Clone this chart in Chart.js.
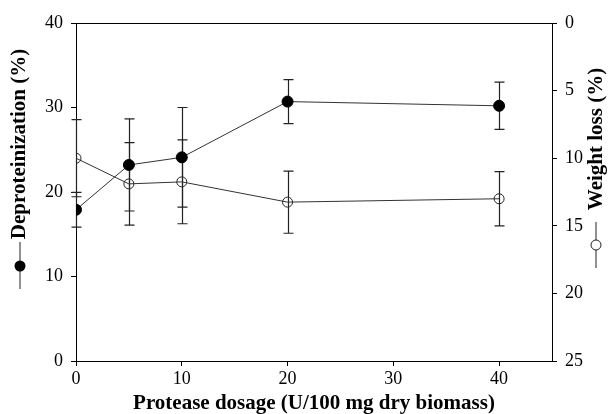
<!DOCTYPE html>
<html>
<head>
<meta charset="utf-8">
<script src="https://cdn.jsdelivr.net/npm/chart.js@4"></script>
<style>
html,body{margin:0;padding:0;background:#fff;}
#wrap{width:610px;height:414px;}
</style>
</head>
<body>
<div id="wrap"><canvas id="c" width="610" height="414"></canvas></div>
<script>
const doses = [0, 5, 10, 20, 40];
const deprot = [17.9, 23.2, 24.1, 30.7, 30.2];
const deprotErr = [2.05, 5.45, 5.9, 2.6, 2.8];
const weightLoss = [10.0, 11.9, 11.75, 13.25, 13.0];
const weightErr = [2.85, 3.05, 3.1, 2.3, 2.0];
const xTicks = [0, 10, 20, 30, 40];
const leftTicks = [0, 10, 20, 30, 40];
const rightTicks = [0, 5, 10, 15, 20, 25];
const xTitle = 'Protease dosage (U/100 mg dry biomass)';
const leftTitle = 'Deproteinization (%)';
const rightTitle = 'Weight loss (%)';

const SERIF = '"Liberation Serif", "Times New Roman", serif';

const errorBars = {
  id: 'errorBars',
  beforeDatasetsDraw(chart) {
    const ctx = chart.ctx;
    const xs = chart.scales.x;
    const sets = [
      {vals: deprot, errs: deprotErr, scale: chart.scales.y},
      {vals: weightLoss, errs: weightErr, scale: chart.scales.y2}
    ];
    ctx.save();
    ctx.strokeStyle = '#222';
    ctx.lineWidth = 1.2;
    sets.forEach(s => {
      doses.forEach((d, i) => {
        const px = Math.round(xs.getPixelForValue(d)) + 0.5;
        const y1 = s.scale.getPixelForValue(s.vals[i] + s.errs[i]);
        const y2 = s.scale.getPixelForValue(s.vals[i] - s.errs[i]);
        ctx.beginPath();
        ctx.moveTo(px, y1); ctx.lineTo(px, y2);
        ctx.moveTo(px - 5, y1); ctx.lineTo(px + 5, y1);
        ctx.moveTo(px - 5, y2); ctx.lineTo(px + 5, y2);
        ctx.stroke();
      });
    });
    ctx.restore();
  }
};

const frame = {
  id: 'frame',
  afterDraw(chart) {
    const ctx = chart.ctx;
    const a = chart.chartArea;
    ctx.save();
    ctx.strokeStyle = '#000';
    ctx.lineWidth = 1;
    ctx.beginPath();
    ctx.moveTo(a.left, Math.round(a.top) + 0.5);
    ctx.lineTo(a.right, Math.round(a.top) + 0.5);
    ctx.stroke();

    ctx.fillStyle = '#000';
    ctx.font = 'bold 21px ' + SERIF;
    ctx.textAlign = 'center';
    ctx.textBaseline = 'middle';
    // x title
    ctx.fillText(xTitle, (a.left + a.right) / 2, 404);
    // left title
    ctx.save();
    ctx.translate(20, 144);
    ctx.rotate(-Math.PI / 2);
    ctx.fillText(leftTitle, 0, 0);
    ctx.restore();
    // left marker
    ctx.strokeStyle = '#555';
    ctx.lineWidth = 1.3;
    ctx.beginPath(); ctx.moveTo(20, 242); ctx.lineTo(20, 289); ctx.stroke();
    ctx.beginPath(); ctx.arc(20, 266, 5.5, 0, Math.PI * 2); ctx.fillStyle = '#000'; ctx.fill();
    // right title
    ctx.fillStyle = '#000';
    ctx.save();
    ctx.translate(597, 139);
    ctx.rotate(-Math.PI / 2);
    ctx.fillText(rightTitle, 0, 0);
    ctx.restore();
    ctx.strokeStyle = '#555';
    ctx.beginPath(); ctx.moveTo(596, 222); ctx.lineTo(596, 268); ctx.stroke();
    ctx.beginPath(); ctx.arc(596, 245, 5, 0, Math.PI * 2);
    ctx.fillStyle = '#fff'; ctx.fill();
    ctx.strokeStyle = '#222'; ctx.lineWidth = 1; ctx.stroke();
    ctx.restore();
  }
};

const axisCommon = {
  border: {display: true, color: '#000', width: 1},
  grid: {display: true, drawOnChartArea: false, drawTicks: true, tickLength: 5, color: '#000', tickColor: '#000'},
  ticks: {color: '#000', font: {family: SERIF, size: 18}, padding: 8}
};

new Chart(document.getElementById('c'), {
  type: 'scatter',
  data: {
    datasets: [
      {
        label: leftTitle,
        data: doses.map((d, i) => ({x: d, y: deprot[i]})),
        yAxisID: 'y',
        showLine: true,
        borderColor: '#333',
        borderWidth: 1,
        pointRadius: 5.5,
        pointBackgroundColor: '#000',
        pointBorderColor: '#000',
        pointBorderWidth: 1
      },
      {
        label: rightTitle,
        data: doses.map((d, i) => ({x: d, y: weightLoss[i]})),
        yAxisID: 'y2',
        showLine: true,
        borderColor: '#333',
        borderWidth: 1,
        pointRadius: 5,
        pointBackgroundColor: 'rgba(0,0,0,0)',
        pointBorderColor: '#222',
        pointBorderWidth: 1
      }
    ]
  },
  options: {
    responsive: false,
    animation: false,
    layout: {padding: {top: 23, left: 0, right: 0, bottom: 0}},
    plugins: {legend: {display: false}, tooltip: {enabled: false}},
    scales: {
      x: Object.assign({}, axisCommon, {
        type: 'linear', position: 'bottom', min: 0, max: 45,
        afterBuildTicks: s => { s.ticks = xTicks.map(v => ({value: v})); },
        afterFit: s => { s.height = 53; },
        ticks: Object.assign({}, axisCommon.ticks, {padding: 2})
      }),
      y: Object.assign({}, axisCommon, {
        type: 'linear', position: 'left', min: 0, max: 40,
        afterBuildTicks: s => { s.ticks = leftTicks.map(v => ({value: v})); },
        afterFit: s => { s.width = 76; }
      }),
      y2: Object.assign({}, axisCommon, {
        type: 'linear', position: 'right', min: 0, max: 25, reverse: true,
        afterBuildTicks: s => { s.ticks = rightTicks.map(v => ({value: v})); },
        afterFit: s => { s.width = 58; }
      })
    }
  },
  plugins: [errorBars, frame]
});
</script>
</body>
</html>
